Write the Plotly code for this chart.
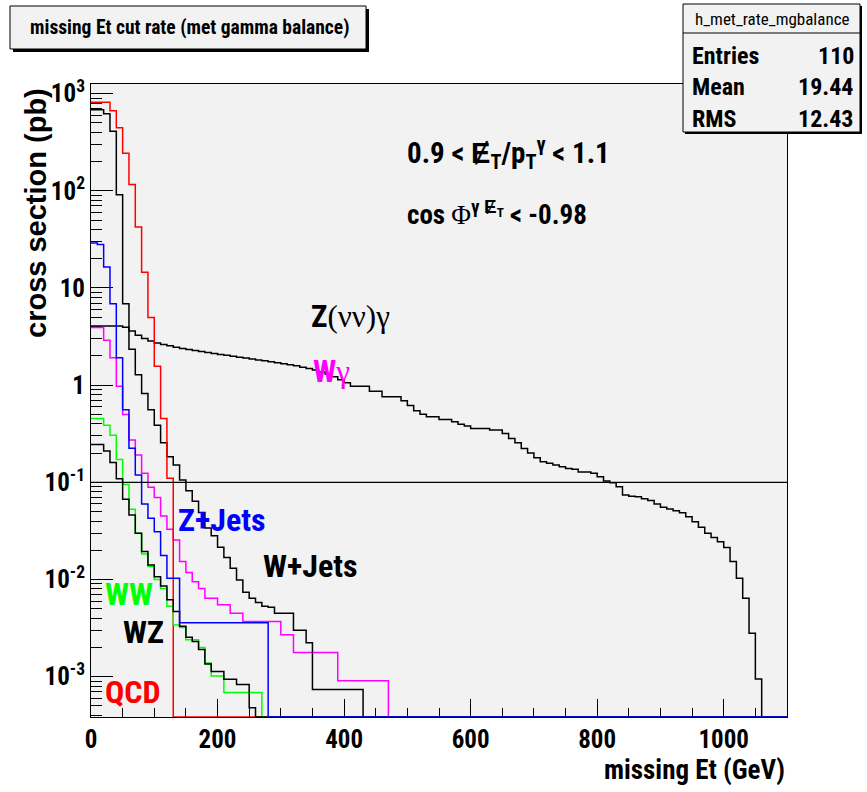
import numpy as np
import plotly.graph_objects as go

# ---------------------------------------------------------------- data
BIN_WIDTH = 10.0          # GeV
N_BINS = 110              # 0 .. 1100 GeV
X_RANGE = (0, 1100)
Y_RANGE = (3.85e-4, 1256.0)
CUT_LINE = 0.1

# integrated cross section above the missing-Et cut, one value per 10 GeV bin
z_nunu_gamma = [
    4.07, 4.07, 4.07, 4.07, 4.07, 3.95, 3.61, 3.26, 3.02, 2.85,
    2.72, 2.62, 2.54, 2.46, 2.38, 2.33, 2.27, 2.22, 2.17, 2.12,
    2.07, 2.03, 1.98, 1.94, 1.90, 1.86, 1.82, 1.78, 1.74, 1.70,
    1.66, 1.62, 1.58, 1.53, 1.48, 1.43, 1.37, 1.30, 1.22, 1.14,
    1.06, 0.977, 0.977, 0.977, 0.867, 0.867, 0.758, 0.758, 0.758, 0.69,
    0.618, 0.544, 0.503, 0.472, 0.472, 0.444, 0.444, 0.42, 0.397, 0.379,
    0.359, 0.359, 0.359, 0.345, 0.345, 0.319, 0.283, 0.255, 0.223, 0.201,
    0.179, 0.163, 0.157, 0.151, 0.145, 0.139, 0.136, 0.128, 0.128, 0.124,
    0.114, 0.103, 0.099, 0.090, 0.074, 0.072, 0.071, 0.068, 0.065, 0.060,
    0.0553, 0.0532, 0.0511, 0.0487, 0.0443, 0.0394, 0.0345, 0.0299, 0.0270, 0.0245,
    0.0213, 0.0153, 0.0103, 0.00643, 0.0028, 0.00095,
]
w_gamma = [
    3.92, 3.92, 2.90, 1.91, 0.977, 0.50, 0.272, 0.191, 0.124, 0.089,
    0.070, 0.045, 0.033, 0.0255, 0.0153, 0.0118, 0.0095, 0.0081, 0.0064, 0.0064,
    0.0055, 0.0055, 0.0045, 0.0045, 0.0037, 0.0037, 0.0037, 0.0037, 0.0037, 0.0037,
    0.0027, 0.0027, 0.00177, 0.00177, 0.00177, 0.00177, 0.00177, 0.00177, 0.00177, 0.00091,
    0.00091, 0.00091, 0.00091, 0.00091, 0.00091, 0.00091, 0.00091,
]
w_jets = [
    681, 681, 620, 411, 91, 6.9, 2.34, 1.28, 0.82, 0.56,
    0.388, 0.255, 0.183, 0.151, 0.106, 0.082, 0.064, 0.049, 0.034, 0.0282,
    0.0215, 0.0169, 0.0131, 0.0099, 0.0074, 0.0064, 0.0058, 0.0053, 0.0052, 0.0045,
    0.0045, 0.0045, 0.0030, 0.0030, 0.00223, 0.00074, 0.00074, 0.00074, 0.00074, 0.00074,
    0.00074, 0.00074, 0.00074,
]
qcd = [816, 816, 816, 666, 445, 244, 116, 42.4, 14.5, 4.96, 1.57, 0.455, 0.11]
ww = [
    0.455, 0.455, 0.388, 0.306, 0.172, 0.095, 0.053, 0.030, 0.0183, 0.0136,
    0.0100, 0.0081, 0.0053, 0.0034, 0.0032, 0.0024, 0.0024, 0.0020, 0.00138, 0.00102,
    0.00102, 0.00069, 0.00069, 0.00069, 0.00069, 0.00069, 0.00069,
]
wz = [
    0.245, 0.245, 0.21, 0.16, 0.109, 0.067, 0.046, 0.030, 0.0194, 0.0141,
    0.0107, 0.0086, 0.0062, 0.0047, 0.0033, 0.00255, 0.0023, 0.0019, 0.00135, 0.00113,
    0.00113, 0.00094, 0.00094, 0.00083, 0.00083, 0.00048,
]
z_jets = [
    29, 28, 16.4, 6.9, 1.92, 0.56, 0.224, 0.119, 0.060, 0.0427,
    0.031, 0.0177, 0.0103, 0.0103, 0.0036, 0.0036, 0.0036, 0.0036, 0.0036, 0.0036,
    0.0036, 0.0036, 0.0036, 0.0036, 0.0036, 0.0036, 0.0036, 0.0036,
]

# tick labels
x_tick_vals = [0, 200, 400, 600, 800, 1000]
x_tick_text = ["0", "200", "400", "600", "800", "1000"]
y_tick_vals = [1e-3, 1e-2, 1e-1, 1, 10, 1e2, 1e3]
y_tick_text = ["10<sup>-3</sup>", "10<sup>-2</sup>", "10<sup>-1</sup>", "1", "10",
               "10<sup>2</sup>", "10<sup>3</sup>"]

stats_name = "h_met_rate_mgbalance"
stats_rows = [("Entries", "110"), ("Mean", "19.44"), ("RMS", "12.43")]

# ---------------------------------------------------------------- helpers
W, H = 867, 792
ML, MR, MT, MB = 91, 80, 84, 75
FONT = "Roboto Condensed, Liberation Sans, Arial, sans-serif"
WIDE = "Liberation Sans, Arial, sans-serif"
BG = "#f2f2f2"
GREEN = "#00ff00"
MAGENTA = "#ff00ff"


def pxx(x):
    return (x - ML) / (W - ML - MR)


def pxy(y):
    return (H - MB - y) / (H - MT - MB)


def step_points(values):
    """Bin edges and contents for an 'hv' step line; empty bins sit on the frame."""
    vals = np.zeros(N_BINS)
    vals[: len(values)] = values
    floor = Y_RANGE[0]
    vals = np.where(vals > 0, vals, floor)
    edges = np.arange(N_BINS + 1) * BIN_WIDTH
    return edges, np.append(vals, vals[-1])


series = [
    (z_nunu_gamma, "black"),
    (w_gamma, MAGENTA),
    (w_jets, "black"),
    (qcd, "#ff0000"),
    (ww, GREEN),
    (wz, "black"),
    (z_jets, "#0000ff"),
]

fig = go.Figure()
for vals, col in series:
    xs, ys = step_points(vals)
    fig.add_trace(go.Scatter(x=xs, y=ys, mode="lines", line_shape="hv",
                             line=dict(color=col, width=1.5),
                             hoverinfo="skip", showlegend=False))

# horizontal reference line at the cut value
fig.add_shape(type="line", xref="x", yref="y", x0=X_RANGE[0], x1=X_RANGE[1],
              y0=CUT_LINE, y1=CUT_LINE, line=dict(color="black", width=1.3))

minor_y = [k * 10.0 ** d for d in range(-4, 4) for k in range(2, 10)]
minor_y = [v for v in minor_y if Y_RANGE[0] < v < Y_RANGE[1]]

tick_font = dict(family=FONT, size=25, color="black", weight=700)
fig.update_xaxes(range=list(X_RANGE), showgrid=False, zeroline=False,
                 showline=True, linecolor="black", linewidth=1, mirror=True,
                 ticks="inside", ticklen=18, tickwidth=1, tickcolor="black",
                 tickmode="array", tickvals=x_tick_vals, ticktext=x_tick_text,
                 minor=dict(ticks="inside", ticklen=9, tickwidth=1, tickcolor="black",
                            dtick=50, tick0=0, showgrid=False),
                 tickfont=tick_font, layer="below traces")
fig.update_yaxes(type="log", range=[np.log10(Y_RANGE[0]), np.log10(Y_RANGE[1])],
                 showgrid=False, zeroline=False,
                 showline=True, linecolor="black", linewidth=1, mirror=True,
                 ticks="inside", ticklen=22, tickwidth=1, tickcolor="black",
                 tickmode="array", tickvals=y_tick_vals, ticktext=y_tick_text,
                 minor=dict(ticks="inside", ticklen=11, tickwidth=1, tickcolor="black",
                            tickmode="array", tickvals=minor_y, showgrid=False),
                 tickfont=tick_font, layer="below traces")

shapes = []
# canvas
shapes.append(dict(type="rect", xref="paper", yref="paper", layer="below",
                   x0=pxx(7), x1=pxx(862), y0=pxy(7), y1=pxy(784),
                   fillcolor=BG, line=dict(width=0)))


def boxed(x0, y0, x1, y1, shadow=3):
    shapes.append(dict(type="rect", xref="paper", yref="paper", layer="above",
                       x0=pxx(x0 + shadow), x1=pxx(x1 + shadow),
                       y0=pxy(y0 + shadow), y1=pxy(y1 + shadow),
                       fillcolor="black", line=dict(width=0)))
    shapes.append(dict(type="rect", xref="paper", yref="paper", layer="above",
                       x0=pxx(x0), x1=pxx(x1), y0=pxy(y0), y1=pxy(y1),
                       fillcolor=BG, line=dict(color="black", width=1)))


boxed(10, 6, 366, 49)             # title
boxed(683, 4, 860, 132, shadow=2)  # statistics
shapes.append(dict(type="line", xref="paper", yref="paper", layer="above",
                   x0=pxx(683), x1=pxx(860), y0=pxy(33), y1=pxy(33),
                   line=dict(color="black", width=1)))
fig.update_layout(shapes=shapes)

ann = []


def text(x, y, s, size, color="black", xa="center", ya="middle", family=FONT,
         weight=700, angle=0):
    ann.append(dict(x=pxx(x), y=pxy(y), xref="paper", yref="paper", text=s,
                    showarrow=False, xanchor=xa, yanchor=ya, textangle=angle,
                    font=dict(family=family, size=size, color=color, weight=weight)))


SERIF = "<span style='font-family:Liberation Serif;font-weight:400'>{}</span>"

text(189, 27, "missing Et cut rate (met gamma balance)", 19.5)
text(772, 19, stats_name, 17, weight=400)
for i, (k, v) in enumerate(stats_rows):
    yy = 56 + i * 31.5
    text(690, yy, k, 24, xa="left")
    text(856, yy, v, 24, xa="right")

text(36, 213, "cross section (pb)", 29, angle=-90, family=WIDE)
text(787, 770, "missing Et (GeV)", 27, xa="right")

text(405, 153, "0.9 < Ɇ<sub>T</sub>/p<sub>T</sub><sup>γ</sup> < 1.1", 29, xa="left")
text(405, 213, "cos " + SERIF.format("Φ") + "<sup>γ Ɇ<sub>T</sub></sup> < -0.98", 27,
     xa="left")

text(350, 316, "Z" + SERIF.format("(νν)γ"), 31)
text(331, 371, "W" + SERIF.format("γ"), 31, color=MAGENTA)
text(222, 520, "Z+Jets", 32, color="#0000ff")
text(310, 566, "W+Jets", 32)
text(129, 594, "WW", 32, color=GREEN)
text(143, 632, "WZ", 32)
text(133, 692, "QCD", 32, color="#ff0000")

fig.update_layout(
    width=W, height=H,
    margin=dict(l=ML, r=MR, t=MT, b=MB, pad=0),
    paper_bgcolor="white", plot_bgcolor=BG,
    annotations=ann, showlegend=False,
    font=dict(family=FONT, color="black"),
)

fig.write_html("out.html")
